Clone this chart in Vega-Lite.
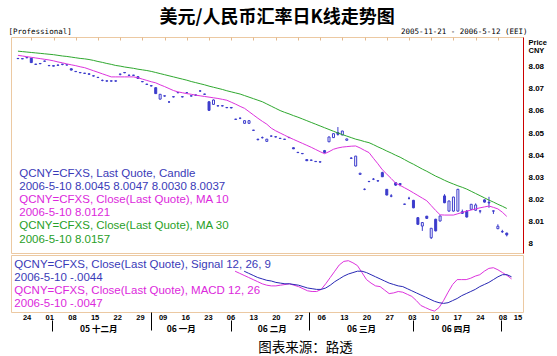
{
"$schema": "https://vega.github.io/schema/vega-lite/v6.json",
"background": "white",
"padding": {"left": 7, "top": 8, "right": 0, "bottom": 0},
"title": {"text": "美元/人民币汇率日K线走势图", "font": "Noto Sans CJK SC", "fontSize": 18, "fontWeight": "bold", "color": "#000000", "anchor": "middle", "offset": 0},
"config": {"view": {"stroke": "#ecc9a2", "strokeWidth": 1}, "axis": {"grid": false}},
"spacing": 0,
"resolve": {"scale": {"color": "independent"}},
"datasets": {
"k": [
{"i":0,"o":8.0839,"h":8.0840,"l":8.0837,"c":8.0838,"m10":8.0853,"m30":8.0872},
{"i":1,"o":8.0838,"h":8.0839,"l":8.0836,"c":8.0837,"m10":8.0850,"m30":8.0870},
{"i":2,"o":8.0842,"h":8.0844,"l":8.0840,"c":8.0843,"m10":8.0847,"m30":8.0868},
{"i":3,"o":8.0840,"h":8.0841,"l":8.0819,"c":8.0820,"m10":8.0844,"m30":8.0866},
{"i":4,"o":8.0813,"h":8.0814,"l":8.0810,"c":8.0812,"m10":8.0841,"m30":8.0864},
{"i":5,"o":8.0816,"h":8.0817,"l":8.0813,"c":8.0815,"m10":8.0838,"m30":8.0862},
{"i":6,"o":8.0826,"h":8.0829,"l":8.0825,"c":8.0827,"m10":8.0835,"m30":8.0860},
{"i":7,"o":8.0807,"h":8.0808,"l":8.0804,"c":8.0806,"m10":8.0832,"m30":8.0858},
{"i":8,"o":8.0806,"h":8.0807,"l":8.0803,"c":8.0804,"m10":8.0828,"m30":8.0856},
{"i":9,"o":8.0809,"h":8.0810,"l":8.0806,"c":8.0808,"m10":8.0823,"m30":8.0853},
{"i":10,"o":8.0813,"h":8.0813,"l":8.0808,"c":8.0812,"m10":8.0819,"m30":8.0850},
{"i":11,"o":8.0810,"h":8.0811,"l":8.0807,"c":8.0809,"m10":8.0814,"m30":8.0848},
{"i":12,"o":8.0792,"h":8.0793,"l":8.0785,"c":8.0786,"m10":8.0810,"m30":8.0845},
{"i":13,"o":8.0780,"h":8.0781,"l":8.0777,"c":8.0779,"m10":8.0806,"m30":8.0842},
{"i":14,"o":8.0775,"h":8.0776,"l":8.0772,"c":8.0774,"m10":8.0801,"m30":8.0839},
{"i":15,"o":8.0772,"h":8.0773,"l":8.0769,"c":8.0771,"m10":8.0797,"m30":8.0837},
{"i":16,"o":8.0769,"h":8.0770,"l":8.0766,"c":8.0767,"m10":8.0790,"m30":8.0834},
{"i":17,"o":8.0760,"h":8.0761,"l":8.0757,"c":8.0759,"m10":8.0783,"m30":8.0830},
{"i":18,"o":8.0753,"h":8.0754,"l":8.0750,"c":8.0752,"m10":8.0776,"m30":8.0825},
{"i":19,"o":8.0739,"h":8.0743,"l":8.0735,"c":8.0739,"m10":8.0769,"m30":8.0821},
{"i":20,"o":8.0737,"h":8.0738,"l":8.0734,"c":8.0736,"m10":8.0762,"m30":8.0816},
{"i":21,"o":8.0737,"h":8.0738,"l":8.0734,"c":8.0736,"m10":8.0755,"m30":8.0812},
{"i":22,"o":8.0737,"h":8.0738,"l":8.0733,"c":8.0736,"m10":8.0755,"m30":8.0807},
{"i":23,"o":8.0768,"h":8.0768,"l":8.0762,"c":8.0767,"m10":8.0755,"m30":8.0804},
{"i":24,"o":8.0775,"h":8.0776,"l":8.0772,"c":8.0774,"m10":8.0755,"m30":8.0800},
{"i":25,"o":8.0763,"h":8.0764,"l":8.0760,"c":8.0762,"m10":8.0755,"m30":8.0797},
{"i":26,"o":8.0763,"h":8.0764,"l":8.0760,"c":8.0762,"m10":8.0755,"m30":8.0794},
{"i":27,"o":8.0756,"h":8.0757,"l":8.0746,"c":8.0748,"m10":8.0751,"m30":8.0790},
{"i":28,"o":8.0734,"h":8.0735,"l":8.0731,"c":8.0733,"m10":8.0745,"m30":8.0787},
{"i":29,"o":8.0722,"h":8.0723,"l":8.0719,"c":8.0721,"m10":8.0739,"m30":8.0784},
{"i":30,"o":8.0715,"h":8.0716,"l":8.0712,"c":8.0714,"m10":8.0733,"m30":8.0780},
{"i":31,"o":8.0706,"h":8.0707,"l":8.0678,"c":8.0679,"m10":8.0728,"m30":8.0775},
{"i":32,"o":8.0654,"h":8.0677,"l":8.0652,"c":8.0676,"m10":8.0719,"m30":8.0770},
{"i":33,"o":8.0668,"h":8.0671,"l":8.0665,"c":8.0669,"m10":8.0711,"m30":8.0765},
{"i":34,"o":8.0641,"h":8.0645,"l":8.0637,"c":8.0641,"m10":8.0702,"m30":8.0760},
{"i":35,"o":8.0665,"h":8.0666,"l":8.0662,"c":8.0664,"m10":8.0693,"m30":8.0755},
{"i":36,"o":8.0684,"h":8.0685,"l":8.0681,"c":8.0683,"m10":8.0687,"m30":8.0750},
{"i":37,"o":8.0665,"h":8.0666,"l":8.0662,"c":8.0664,"m10":8.0683,"m30":8.0745},
{"i":38,"o":8.0683,"h":8.0686,"l":8.0680,"c":8.0683,"m10":8.0679,"m30":8.0740},
{"i":39,"o":8.0669,"h":8.0670,"l":8.0666,"c":8.0668,"m10":8.0676,"m30":8.0734},
{"i":40,"o":8.0673,"h":8.0674,"l":8.0670,"c":8.0672,"m10":8.0672,"m30":8.0729},
{"i":41,"o":8.0691,"h":8.0695,"l":8.0687,"c":8.0691,"m10":8.0669,"m30":8.0724},
{"i":42,"o":8.0677,"h":8.0678,"l":8.0674,"c":8.0676,"m10":8.0666,"m30":8.0719},
{"i":43,"o":8.0642,"h":8.0643,"l":8.0601,"c":8.0603,"m10":8.0663,"m30":8.0713},
{"i":44,"o":8.0630,"h":8.0652,"l":8.0628,"c":8.0650,"m10":8.0660,"m30":8.0708},
{"i":45,"o":8.0624,"h":8.0625,"l":8.0621,"c":8.0623,"m10":8.0657,"m30":8.0703},
{"i":46,"o":8.0624,"h":8.0625,"l":8.0621,"c":8.0623,"m10":8.0653,"m30":8.0698},
{"i":47,"o":8.0616,"h":8.0617,"l":8.0613,"c":8.0615,"m10":8.0649,"m30":8.0692},
{"i":48,"o":8.0616,"h":8.0617,"l":8.0612,"c":8.0614,"m10":8.0640,"m30":8.0687},
{"i":49,"o":8.0563,"h":8.0564,"l":8.0560,"c":8.0562,"m10":8.0631,"m30":8.0682},
{"i":50,"o":8.0567,"h":8.0571,"l":8.0563,"c":8.0567,"m10":8.0621,"m30":8.0677},
{"i":51,"o":8.0544,"h":8.0557,"l":8.0543,"c":8.0556,"m10":8.0612,"m30":8.0670},
{"i":52,"o":8.0544,"h":8.0557,"l":8.0543,"c":8.0556,"m10":8.0597,"m30":8.0663},
{"i":53,"o":8.0513,"h":8.0514,"l":8.0509,"c":8.0512,"m10":8.0582,"m30":8.0656},
{"i":54,"o":8.0472,"h":8.0473,"l":8.0466,"c":8.0470,"m10":8.0567,"m30":8.0649},
{"i":55,"o":8.0479,"h":8.0484,"l":8.0475,"c":8.0479,"m10":8.0553,"m30":8.0642},
{"i":56,"o":8.0462,"h":8.0473,"l":8.0461,"c":8.0472,"m10":8.0540,"m30":8.0632},
{"i":57,"o":8.0486,"h":8.0489,"l":8.0483,"c":8.0486,"m10":8.0522,"m30":8.0622},
{"i":58,"o":8.0483,"h":8.0484,"l":8.0480,"c":8.0482,"m10":8.0510,"m30":8.0612},
{"i":59,"o":8.0476,"h":8.0477,"l":8.0473,"c":8.0475,"m10":8.0500,"m30":8.0602},
{"i":60,"o":8.0472,"h":8.0473,"l":8.0469,"c":8.0471,"m10":8.0490,"m30":8.0594},
{"i":61,"o":8.0480,"h":8.0481,"l":8.0477,"c":8.0479,"m10":8.0480,"m30":8.0587},
{"i":62,"o":8.0433,"h":8.0434,"l":8.0427,"c":8.0428,"m10":8.0471,"m30":8.0579},
{"i":63,"o":8.0412,"h":8.0414,"l":8.0409,"c":8.0411,"m10":8.0462,"m30":8.0572},
{"i":64,"o":8.0407,"h":8.0408,"l":8.0404,"c":8.0406,"m10":8.0453,"m30":8.0564},
{"i":65,"o":8.0379,"h":8.0380,"l":8.0373,"c":8.0374,"m10":8.0444,"m30":8.0556},
{"i":66,"o":8.0377,"h":8.0378,"l":8.0374,"c":8.0376,"m10":8.0435,"m30":8.0548},
{"i":67,"o":8.0371,"h":8.0372,"l":8.0368,"c":8.0370,"m10":8.0425,"m30":8.0540},
{"i":68,"o":8.0369,"h":8.0370,"l":8.0366,"c":8.0368,"m10":8.0415,"m30":8.0532},
{"i":69,"o":8.0420,"h":8.0423,"l":8.0408,"c":8.0411,"m10":8.0406,"m30":8.0524},
{"i":70,"o":8.0460,"h":8.0483,"l":8.0459,"c":8.0482,"m10":8.0415,"m30":8.0516},
{"i":71,"o":8.0479,"h":8.0498,"l":8.0478,"c":8.0497,"m10":8.0426,"m30":8.0508},
{"i":72,"o":8.0502,"h":8.0527,"l":8.0488,"c":8.0494,"m10":8.0432,"m30":8.0500},
{"i":73,"o":8.0491,"h":8.0510,"l":8.0490,"c":8.0509,"m10":8.0436,"m30":8.0493},
{"i":74,"o":8.0467,"h":8.0474,"l":8.0465,"c":8.0473,"m10":8.0438,"m30":8.0486},
{"i":75,"o":8.0386,"h":8.0390,"l":8.0383,"c":8.0385,"m10":8.0440,"m30":8.0479},
{"i":76,"o":8.0350,"h":8.0396,"l":8.0348,"c":8.0395,"m10":8.0441,"m30":8.0472},
{"i":77,"o":8.0312,"h":8.0319,"l":8.0310,"c":8.0317,"m10":8.0432,"m30":8.0467},
{"i":78,"o":8.0244,"h":8.0248,"l":8.0240,"c":8.0244,"m10":8.0421,"m30":8.0461},
{"i":79,"o":8.0280,"h":8.0281,"l":8.0277,"c":8.0279,"m10":8.0411,"m30":8.0456},
{"i":80,"o":8.0290,"h":8.0295,"l":8.0286,"c":8.0290,"m10":8.0385,"m30":8.0447},
{"i":81,"o":8.0283,"h":8.0284,"l":8.0279,"c":8.0282,"m10":8.0360,"m30":8.0437},
{"i":82,"o":8.0320,"h":8.0324,"l":8.0300,"c":8.0301,"m10":8.0333,"m30":8.0428},
{"i":83,"o":8.0244,"h":8.0245,"l":8.0217,"c":8.0218,"m10":8.0313,"m30":8.0418},
{"i":84,"o":8.0214,"h":8.0222,"l":8.0208,"c":8.0213,"m10":8.0293,"m30":8.0409},
{"i":85,"o":8.0274,"h":8.0276,"l":8.0260,"c":8.0263,"m10":8.0272,"m30":8.0399},
{"i":86,"o":8.0270,"h":8.0271,"l":8.0258,"c":8.0266,"m10":8.0262,"m30":8.0390},
{"i":87,"o":8.0177,"h":8.0178,"l":8.0174,"c":8.0176,"m10":8.0251,"m30":8.0379},
{"i":88,"o":8.0203,"h":8.0210,"l":8.0198,"c":8.0203,"m10":8.0240,"m30":8.0368},
{"i":89,"o":8.0194,"h":8.0196,"l":8.0158,"c":8.0160,"m10":8.0228,"m30":8.0358},
{"i":90,"o":8.0115,"h":8.0118,"l":8.0083,"c":8.0085,"m10":8.0216,"m30":8.0347},
{"i":91,"o":8.0077,"h":8.0094,"l":8.0055,"c":8.0093,"m10":8.0204,"m30":8.0336},
{"i":92,"o":8.0122,"h":8.0123,"l":8.0110,"c":8.0112,"m10":8.0192,"m30":8.0326},
{"i":93,"o":8.0024,"h":8.0068,"l":8.0018,"c":8.0067,"m10":8.0170,"m30":8.0315},
{"i":94,"o":8.0108,"h":8.0110,"l":8.0053,"c":8.0055,"m10":8.0148,"m30":8.0304},
{"i":95,"o":8.0100,"h":8.0124,"l":8.0098,"c":8.0123,"m10":8.0128,"m30":8.0295},
{"i":96,"o":8.0214,"h":8.0222,"l":8.0181,"c":8.0183,"m10":8.0127,"m30":8.0285},
{"i":97,"o":8.0145,"h":8.0192,"l":8.0143,"c":8.0191,"m10":8.0127,"m30":8.0276},
{"i":98,"o":8.0145,"h":8.0210,"l":8.0143,"c":8.0209,"m10":8.0127,"m30":8.0268},
{"i":99,"o":8.0145,"h":8.0246,"l":8.0143,"c":8.0244,"m10":8.0133,"m30":8.0260},
{"i":100,"o":8.0142,"h":8.0152,"l":8.0132,"c":8.0135,"m10":8.0139,"m30":8.0253},
{"i":101,"o":8.0145,"h":8.0150,"l":8.0116,"c":8.0118,"m10":8.0145,"m30":8.0245},
{"i":102,"o":8.0153,"h":8.0177,"l":8.0151,"c":8.0176,"m10":8.0150,"m30":8.0235},
{"i":103,"o":8.0149,"h":8.0180,"l":8.0147,"c":8.0173,"m10":8.0155,"m30":8.0225},
{"i":104,"o":8.0146,"h":8.0147,"l":8.0135,"c":8.0145,"m10":8.0160,"m30":8.0215},
{"i":105,"o":8.0196,"h":8.0198,"l":8.0184,"c":8.0186,"m10":8.0164,"m30":8.0205},
{"i":106,"o":8.0185,"h":8.0210,"l":8.0160,"c":8.0182,"m10":8.0168,"m30":8.0195},
{"i":107,"o":8.0146,"h":8.0147,"l":8.0132,"c":8.0145,"m10":8.0162,"m30":8.0186},
{"i":108,"o":8.0065,"h":8.0085,"l":8.0063,"c":8.0076,"m10":8.0155,"m30":8.0176},
{"i":109,"o":8.0052,"h":8.0060,"l":8.0046,"c":8.0051,"m10":8.0140,"m30":8.0167},
{"i":110,"o":8.0045,"h":8.0047,"l":8.0030,"c":8.0037,"m10":8.0121,"m30":8.0157}
],
"m": [
{"i":49,"m":-0.0036},{"i":50,"m":-0.0039},
{"i":51,"m":-0.0042,"s":-0.0036},{"i":52,"m":-0.0045,"s":-0.0039},{"i":53,"m":-0.0048,"s":-0.0042},{"i":54,"m":-0.0051,"s":-0.0045},
{"i":55,"m":-0.0054,"s":-0.0047},{"i":56,"m":-0.0056,"s":-0.0049},{"i":57,"m":-0.0057,"s":-0.0050},{"i":58,"m":-0.0057,"s":-0.0052},
{"i":59,"m":-0.0056,"s":-0.0053},{"i":60,"m":-0.0055,"s":-0.0054},{"i":61,"m":-0.0054,"s":-0.0054},{"i":62,"m":-0.0056,"s":-0.0055},
{"i":63,"m":-0.0058,"s":-0.0056},{"i":64,"m":-0.0061,"s":-0.0058},{"i":65,"m":-0.0064,"s":-0.0060},{"i":66,"m":-0.0065,"s":-0.0061},
{"i":67,"m":-0.0065,"s":-0.0062},{"i":68,"m":-0.0062,"s":-0.0062},{"i":69,"m":-0.0054,"s":-0.0060},{"i":70,"m":-0.0045,"s":-0.0056},
{"i":71,"m":-0.0036,"s":-0.0051},{"i":72,"m":-0.0027,"s":-0.0047},{"i":73,"m":-0.0022,"s":-0.0043},{"i":74,"m":-0.0021,"s":-0.0040},
{"i":75,"m":-0.0024,"s":-0.0038},{"i":76,"m":-0.0028,"s":-0.0036},{"i":77,"m":-0.0038,"s":-0.0036},{"i":78,"m":-0.0048,"s":-0.0038},
{"i":79,"m":-0.0053,"s":-0.0041},{"i":80,"m":-0.0057,"s":-0.0044},{"i":81,"m":-0.0058,"s":-0.0047},{"i":82,"m":-0.0063,"s":-0.0050},
{"i":83,"m":-0.0068,"s":-0.0053},{"i":84,"m":-0.0067,"s":-0.0055},{"i":85,"m":-0.0065,"s":-0.0057},{"i":86,"m":-0.0066,"s":-0.0058},
{"i":87,"m":-0.0069,"s":-0.0061},{"i":88,"m":-0.0072,"s":-0.0064},{"i":89,"m":-0.0078,"s":-0.0067},{"i":90,"m":-0.0085,"s":-0.0070},
{"i":91,"m":-0.0088,"s":-0.0073},{"i":92,"m":-0.0091,"s":-0.0076},{"i":93,"m":-0.0093,"s":-0.0079},{"i":94,"m":-0.0088,"s":-0.0081},
{"i":95,"m":-0.0078,"s":-0.0082},{"i":96,"m":-0.0066,"s":-0.0081},{"i":97,"m":-0.0055,"s":-0.0078},{"i":98,"m":-0.0048,"s":-0.0075},
{"i":99,"m":-0.0048,"s":-0.0071},{"i":100,"m":-0.0048,"s":-0.0068},{"i":101,"m":-0.0046,"s":-0.0065},{"i":102,"m":-0.0043,"s":-0.0062},
{"i":103,"m":-0.0041,"s":-0.0058},{"i":104,"m":-0.0036,"s":-0.0055},{"i":105,"m":-0.0032,"s":-0.0052},{"i":106,"m":-0.0031,"s":-0.0048},
{"i":107,"m":-0.0034,"s":-0.0044},{"i":108,"m":-0.0038,"s":-0.0041},{"i":109,"m":-0.0042,"s":-0.0041},{"i":110,"m":-0.0047,"s":-0.0044}
]
},
"vconcat": [
{
"width": 512, "height": 216,
"encoding": {"x": {"field": "i", "type": "quantitative", "scale": {"domain": [-0.44, 112.53], "nice": false, "zero": false},
  "axis": {"orient": "top", "values": [3,8,13,18,23,28,33,38,43,48,53,58,63,68,73,78,83,88,93,98,103,108], "labels": false, "ticks": true, "tickSize": -3, "tickColor": "#e3b98f", "domain": false,
  "title": "2005-11-21 - 2006-5-12 (EEI)", "titleFont": "DejaVu Sans Mono", "titleFontSize": 7.5, "titleFontWeight": "normal", "titleColor": "#000000", "titleX": 516, "titleY": -6, "titleAlign": "right", "titleBaseline": "middle"}}},
"layer": [
{"data": {"name": "k"}, "mark": {"type": "rule", "color": "#3c3ccc", "strokeWidth": 1},
 "encoding": {"y": {"field": "l", "type": "quantitative", "scale": {"domain": [7.995455, 8.093636], "nice": false, "zero": false},
   "axis": {"orient": "right", "values": [8,8.01,8.02,8.03,8.04,8.05,8.06,8.07,8.08], "format": "~g", "ticks": false, "tickSize": 0, "domain": true, "domainColor": "#cc0000", "labelPadding": 5, "labelFont": "Liberation Sans", "labelFontSize": 8, "labelFontWeight": "bold", "labelColor": "#000000",
   "title": ["Price", "CNY"], "titleAngle": 0, "titleX": 5, "titleY": 1, "titleAlign": "left", "titleBaseline": "top", "titleFont": "Liberation Sans", "titleFontSize": 7.5, "titleFontWeight": "bold", "titleColor": "#000000", "titleLineHeight": 8}},
  "y2": {"field": "h"}}},
{"data": {"name": "k"}, "mark": {"type": "bar", "size": 2, "stroke": "#3c3ccc", "strokeWidth": 1},
 "encoding": {"y": {"field": "o", "type": "quantitative", "scale": {"domain": [7.995455, 8.093636], "nice": false, "zero": false},
   "axis": {"orient": "left", "labels": false, "ticks": false, "domain": false, "title": "[Professional]", "titleAngle": 0, "titleX": -3, "titleY": -6, "titleAlign": "left", "titleBaseline": "middle", "titleFont": "DejaVu Sans Mono", "titleFontSize": 7.5, "titleFontWeight": "normal", "titleColor": "#000000"}},
  "y2": {"field": "c"},
  "fill": {"condition": {"test": "datum.c > datum.o", "value": "#ffffff"}, "value": "#3c3ccc"}}},
{"data": {"name": "k"}, "mark": {"type": "line", "color": "#2fa82f", "strokeWidth": 1},
 "encoding": {"y": {"field": "m30", "type": "quantitative", "scale": {"domain": [7.995455, 8.093636], "nice": false, "zero": false}, "axis": null}}},
{"data": {"name": "k"}, "mark": {"type": "line", "color": "#dd33dd", "strokeWidth": 1},
 "encoding": {"y": {"field": "m10", "type": "quantitative", "scale": {"domain": [7.995455, 8.093636], "nice": false, "zero": false}, "axis": null}}},
{"data": {"values": [
 {"i":0.3,"v":8.03159,"t":"QCNY=CFXS, Last Quote, Candle","k":"a"},
 {"i":0.3,"v":8.02559,"t":"2006-5-10 8.0045 8.0047 8.0030 8.0037","k":"a"},
 {"i":0.3,"v":8.01959,"t":"QCNY=CFXS, Close(Last Quote), MA 10","k":"b"},
 {"i":0.3,"v":8.01359,"t":"2006-5-10 8.0121","k":"b"},
 {"i":0.3,"v":8.00759,"t":"QCNY=CFXS, Close(Last Quote), MA 30","k":"c"},
 {"i":0.3,"v":8.00159,"t":"2006-5-10 8.0157","k":"c"}]},
 "mark": {"type": "text", "align": "left", "baseline": "middle", "font": "Liberation Sans", "fontSize": 11.5},
 "encoding": {"y": {"field": "v", "type": "quantitative", "scale": {"domain": [7.995455, 8.093636], "nice": false, "zero": false}, "axis": null},
  "text": {"field": "t"},
  "color": {"field": "k", "type": "nominal", "scale": {"domain": ["a","b","c"], "range": ["#3a3ab8","#dc28dc","#28a028"]}, "legend": null}}}
],
"resolve": {"axis": {"y": "independent"}}
},
{
"width": 512, "height": 57,
"layer": [
{"data": {"name": "m"}, "mark": {"type": "line", "color": "#dd33dd", "strokeWidth": 1},
 "encoding": {
  "x": {"field": "i", "type": "quantitative", "scale": {"domain": [-0.44, 112.53], "nice": false, "zero": false},
   "axis": {"orient": "bottom", "values": [3,8,13,18,23,28,33,38,43,48,53,58,63,68,73,78,83,88,93,98,103,108,111.3],
    "labelExpr": "['24','01','08','15','22','29','09','16','23','06','13','20','27','06','13','20','27','03','10','17','24','08','15'][indexof([3,8,13,18,23,28,33,38,43,48,53,58,63,68,73,78,83,88,93,98,103,108,111.3], datum.value)]",
    "ticks": false, "tickSize": 0, "domain": false, "labelPadding": 1, "labelDx": 1, "labelFont": "Liberation Sans", "labelFontSize": 7.5, "labelFontWeight": "bold", "labelColor": "#000000", "labelAngle": 0, "labelFlush": false, "labelOverlap": false,
    "title": "图表来源：路透", "titleFont": "Noto Sans CJK SC", "titleFontSize": 13.5, "titleFontWeight": "normal", "titleColor": "#000000", "titleX": 294, "titleY": 35, "titleAlign": "center", "titleBaseline": "middle"}},
  "y": {"field": "m", "type": "quantitative", "scale": {"domain": [-0.0094286, -0.0012857], "nice": false, "zero": false},
   "axis": {"orient": "right", "values": [-0.006, -0.008], "labelExpr": "replace(format(datum.value, '.3f'), '0.', '.')", "ticks": false, "tickSize": 0, "domain": true, "domainColor": "#ecc9a2", "labelPadding": 5, "labelFont": "Liberation Sans", "labelFontSize": 8, "labelFontWeight": "bold", "labelColor": "#3333cc",
    "title": ["MACD", "CNY"], "titleAngle": 0, "titleX": 5, "titleY": 2, "titleAlign": "left", "titleBaseline": "top", "titleFont": "Liberation Sans", "titleFontSize": 7.5, "titleFontWeight": "bold", "titleColor": "#3333cc", "titleLineHeight": 8}}}},
{"data": {"name": "m"}, "mark": {"type": "line", "color": "#2828b4", "strokeWidth": 1},
 "encoding": {
  "x": {"field": "i", "type": "quantitative", "scale": {"domain": [-0.44, 112.53], "nice": false, "zero": false},
   "axis": {"orient": "bottom", "values": [18.8, 37, 57.1, 76.8, 97.7],
    "labelExpr": "['05 十二月','06 一月','06 二月','06 三月','06 四月'][indexof([18.8, 37, 57.1, 76.8, 97.7], datum.value)]",
    "ticks": false, "tickSize": 0, "domain": false, "labelPadding": 12, "labelFont": "Noto Sans CJK SC", "labelFontSize": 8.5, "labelFontWeight": "bold", "labelColor": "#000000", "labelAngle": 0, "labelFlush": false, "labelOverlap": false, "title": null}},
  "y": {"field": "s", "type": "quantitative", "scale": {"domain": [-0.0094286, -0.0012857], "nice": false, "zero": false}, "axis": null}}},
{"data": {"values": [
 {"i":0.3,"v":-0.002743,"t":"QCNY=CFXS, Close(Last Quote), Signal 12, 26, 9","k":"a"},
 {"i":0.3,"v":-0.004571,"t":"2006-5-10 -.0044","k":"a"},
 {"i":0.3,"v":-0.006429,"t":"QCNY=CFXS, Close(Last Quote), MACD 12, 26","k":"b"},
 {"i":0.3,"v":-0.008257,"t":"2006-5-10 -.0047","k":"b"}]},
 "mark": {"type": "text", "align": "left", "baseline": "middle", "font": "Liberation Sans", "fontSize": 11.5},
 "encoding": {
  "x": {"field": "i", "type": "quantitative", "scale": {"domain": [-0.44, 112.53], "nice": false, "zero": false},
   "axis": {"orient": "bottom", "values": [30.45, 65.4], "labels": false, "ticks": true, "tickSize": 18, "tickColor": "#000000", "tickWidth": 1, "domain": false, "title": null}},
  "y": {"field": "v", "type": "quantitative", "scale": {"domain": [-0.0094286, -0.0012857], "nice": false, "zero": false}, "axis": null},
  "text": {"field": "t"},
  "color": {"field": "k", "type": "nominal", "scale": {"domain": ["a","b","c"], "range": ["#3a3ab8","#dc28dc","#28a028"]}, "legend": null}}},
{"data": {"name": "m"}, "mark": {"type": "point", "opacity": 0},
 "encoding": {
  "x": {"field": "i", "type": "quantitative", "scale": {"domain": [-0.44, 112.53], "nice": false, "zero": false},
   "axis": {"orient": "bottom", "values": [8.5, 48.1, 88.2, 107.7], "labels": false, "ticks": true, "tickSize": 11, "offset": 8, "tickColor": "#000000", "tickWidth": 1, "domain": false, "title": null}},
  "y": {"field": "m", "type": "quantitative", "scale": {"domain": [-0.0094286, -0.0012857], "nice": false, "zero": false}, "axis": null}}}
],
"resolve": {"axis": {"x": "independent"}}
}
]
}
